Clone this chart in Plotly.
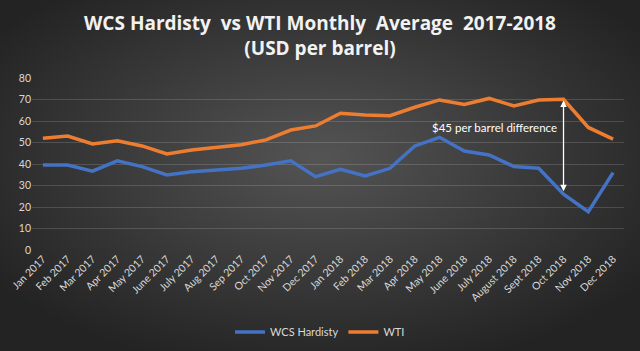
import base64
import plotly.graph_objects as go

months = ["Jan 2017", "Feb 2017", "Mar 2017", "Apr 2017", "May 2017", "June 2017",
          "July 2017", "Aug 2017", "Sep 2017", "Oct 2017", "Nov 2017", "Dec 2017",
          "Jan 2018", "Feb 2018", "Mar 2018", "Apr 2018", "May 2018", "June 2018",
          "July 2018", "August 2018", "Sept 2018", "Oct 2018", "Nov 2018", "Dec 2018"]
wcs = [39.5, 39.5, 36.7, 41.5, 38.8, 34.9, 36.4, 37.2, 38.0, 39.5, 41.5, 34.1,
       37.5, 34.4, 38.0, 48.4, 52.4, 46.0, 44.2, 38.8, 38.0, 26.0, 17.8, 36.0]
wti = [52.0, 53.0, 49.3, 50.8, 48.4, 44.7, 46.5, 47.8, 49.0, 51.2, 55.8, 57.7,
       63.6, 62.8, 62.5, 66.4, 69.8, 67.7, 70.5, 67.0, 69.8, 70.1, 57.0, 51.6]
y_ticks = [0, 10, 20, 30, 40, 50, 60, 70, 80]
title_text = "WCS Hardisty  vs WTI Monthly  Average  2017-2018<br>(USD per barrel)"
note_text = "$45 per barrel difference"
note_month = "Oct 2018"
note_top = 69.5
note_bottom = 26.6
note_label_y = 57

W, H = 640, 351
L, R, T, B = 32, 16, 78, 101
pw, ph = W - L - R, H - T - B

svg = ('<svg xmlns="http://www.w3.org/2000/svg" width="640" height="351">'
       '<defs><radialGradient id="g" cx="50%" cy="45%" r="62%">'
       '<stop offset="0" stop-color="#545454"/><stop offset="1" stop-color="#232323"/>'
       '</radialGradient></defs><rect width="640" height="351" fill="url(#g)"/></svg>')
src = "data:image/svg+xml;base64," + base64.b64encode(svg.encode()).decode()

fig = go.Figure()
fig.add_trace(go.Scatter(x=months, y=wcs, mode="lines", name="WCS Hardisty",
                         line=dict(color="#4472C4", width=3.5)))
fig.add_trace(go.Scatter(x=months, y=wti, mode="lines", name="WTI",
                         line=dict(color="#ED7D31", width=3.5)))

fig.add_annotation(x=note_month, y=note_top, ax=note_month, ay=note_bottom,
                   xref="x", yref="y", axref="x", ayref="y", text="",
                   showarrow=True, arrowhead=2, startarrowhead=2, arrowside="end+start",
                   arrowsize=1, arrowwidth=1.3, arrowcolor="white")
fig.add_annotation(x=18.2, y=note_label_y, xref="x", yref="y", text=note_text,
                   showarrow=False, font=dict(color="white", size=11.5, family="Lato"))

# chart title
fig.add_annotation(x=(W / 2 - L) / pw, y=1 + (T - 35) / ph, xref="paper", yref="paper",
                   xanchor="center", yanchor="middle", text=title_text, showarrow=False,
                   font=dict(family="Open Sans", size=19, color="#f2f2f2", weight="bold"))

fig.add_layout_image(dict(source=src, xref="paper", yref="paper",
                          x=-L / pw, y=1 + T / ph, sizex=W / pw, sizey=H / ph,
                          sizing="stretch", xanchor="left", yanchor="top", layer="below"))

fig.update_layout(
    width=W, height=H,
    margin=dict(l=L, r=R, t=T, b=B, autoexpand=False),
    paper_bgcolor="#333333",
    plot_bgcolor="rgba(0,0,0,0)",
    showlegend=True,
    legend=dict(orientation="h", x=0.5, xanchor="center", xref="container",
                y=19 / H, yanchor="middle", yref="container",
                font=dict(family="Lato", size=11, color="#d9d9d9"),
                bgcolor="rgba(0,0,0,0)", itemwidth=30),
    font=dict(family="Lato", color="#d9d9d9"),
)
fig.update_xaxes(type="category", range=[-0.44, 23.44], tickangle=-45, automargin=False,
                 tickfont=dict(size=10.5, color="#d9d9d9", family="Lato"),
                 showgrid=False, showline=False, ticks="", zeroline=False)
fig.update_yaxes(range=[0, 80], tickvals=y_ticks, showgrid=True, automargin=False,
                 gridcolor="rgba(255,255,255,0.15)", gridwidth=1, zeroline=False,
                 tickfont=dict(size=10.5, color="#d9d9d9", family="Lato"), ticks="", showline=False)

fig.write_html("out.html")
